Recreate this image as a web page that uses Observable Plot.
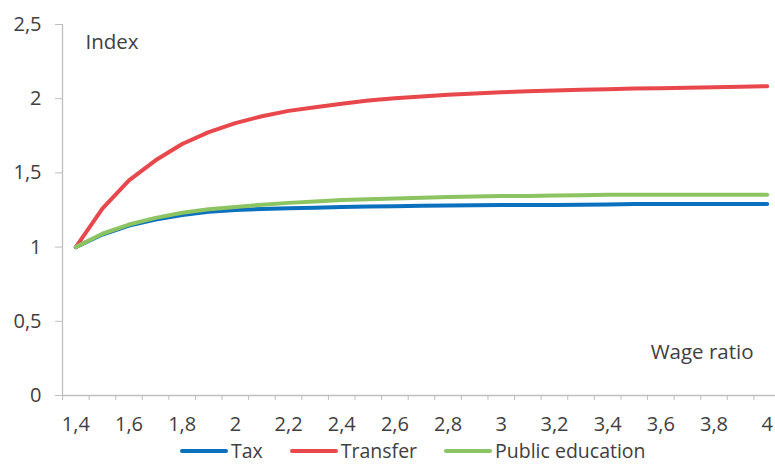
<!DOCTYPE html>
<html>
<head>
<meta charset="utf-8">
<script src="https://cdn.jsdelivr.net/npm/d3@7"></script>
<script src="https://cdn.jsdelivr.net/npm/@observablehq/plot@0.6"></script>
<style>
  html, body { margin: 0; padding: 0; background: #fff; }
  body { width: 775px; height: 465px; overflow: hidden; font-family: "Open Sans", sans-serif; color: #404040; }
  #chart svg { display: block; }
  #legend { display: flex; align-items: center; height: 22px; line-height: 22px; padding-left: 180px; font-size: 19.5px; color: #404040; }
  .item { display: flex; align-items: center; margin-right: 27px; }
  .sw { width: 48px; height: 4px; border-radius: 2px; margin-right: 3px; }
</style>
</head>
<body>
<div id="chart"></div>
<div id="legend"></div>
<script>
const wageRatio = [1.4,1.5,1.6,1.7,1.8,1.9,2.0,2.1,2.2,2.3,2.4,2.5,2.6,2.7,2.8,2.9,3.0,3.1,3.2,3.3,3.4,3.5,3.6,3.7,3.8,3.9,4.0];
const tax = [1.00,1.085,1.145,1.186,1.216,1.238,1.250,1.257,1.262,1.266,1.270,1.273,1.276,1.278,1.280,1.282,1.283,1.283,1.284,1.285,1.287,1.290,1.290,1.290,1.290,1.290,1.290];
const transfer = [1.00,1.26,1.45,1.585,1.695,1.775,1.835,1.882,1.918,1.942,1.966,1.988,2.003,2.015,2.026,2.035,2.043,2.050,2.055,2.060,2.064,2.068,2.071,2.074,2.077,2.080,2.084];
const publicEducation = [1.00,1.09,1.152,1.197,1.231,1.255,1.271,1.286,1.298,1.308,1.317,1.323,1.328,1.333,1.337,1.341,1.344,1.345,1.347,1.350,1.352,1.352,1.352,1.352,1.353,1.353,1.353];
const seriesNames = ["Tax", "Transfer", "Public education"];
const seriesColors = ["#0b70bd", "#e8474c", "#8cc462"];
const xTickLabels = [1.4,1.6,1.8,2.0,2.2,2.4,2.6,2.8,3.0,3.2,3.4,3.6,3.8,4.0];
const yTickLabels = [0,0.5,1,1.5,2,2.5];
const xTickMarks = [1.35,1.45,1.55,1.65,1.75,1.85,1.95,2.05,2.15,2.25,2.35,2.45,2.55,2.65,2.75,2.85,2.95,3.05,3.15,3.25,3.35,3.45,3.55,3.65,3.75,3.85,3.95];
const axisTitleY = "Index";
const axisTitleX = "Wage ratio";

const seriesValues = [tax, transfer, publicEducation];
const rows = [];
seriesNames.forEach((name, i) => {
  wageRatio.forEach((x, j) => rows.push({series: name, x, y: seriesValues[i][j]}));
});
const fmt = d => String(d).replace(".", ",");
const axisColor = "#bfbfbf";

const plot = Plot.plot({
  width: 775,
  height: 440,
  marginLeft: 62,
  marginRight: -5,
  marginTop: 24,
  marginBottom: 45,
  style: {fontFamily: "Open Sans, sans-serif", fontSize: "20px", color: "#404040", background: "#fff", overflow: "visible"},
  x: {domain: [1.35, 4.05]},
  y: {domain: [0, 2.5]},
  color: {domain: seriesNames, range: seriesColors},
  marks: [
    Plot.axisY({ticks: yTickLabels, tickFormat: fmt, tickSize: 7, tickPadding: 14, stroke: axisColor, fill: "#404040", fontSize: 20, label: null}),
    Plot.axisX({ticks: xTickMarks, tickSize: 5, tickFormat: () => "", stroke: axisColor, label: null}),
    Plot.axisX({ticks: xTickLabels, tickSize: 0, tickPadding: 21, tickFormat: fmt, fill: "#404040", fontSize: 20, label: null}),
    Plot.ruleX([1.35], {y1: 0, y2: 2.5, stroke: axisColor, strokeWidth: 1.3}),
    Plot.ruleY([0], {stroke: axisColor, strokeWidth: 1.3}),
    Plot.line(rows, {x: "x", y: "y", z: "series", stroke: "series", strokeWidth: 4, strokeLinecap: "round", strokeLinejoin: "round"}),
    Plot.text([axisTitleY], {frameAnchor: "top-left", textAnchor: "start", lineAnchor: "middle", dx: 23, dy: 18, fontSize: 20.5, fill: "#404040"}),
    Plot.text([axisTitleX], {frameAnchor: "bottom-right", textAnchor: "end", lineAnchor: "middle", dx: -27, dy: -43, fontSize: 20.5, fill: "#404040"})
  ]
});
document.getElementById("chart").appendChild(plot);

const legend = document.getElementById("legend");
seriesNames.forEach((name, i) => {
  const item = document.createElement("div");
  item.className = "item";
  const sw = document.createElement("div");
  sw.className = "sw";
  sw.style.background = seriesColors[i];
  const label = document.createElement("span");
  label.textContent = name;
  item.appendChild(sw);
  item.appendChild(label);
  legend.appendChild(item);
});
</script>
</body>
</html>
